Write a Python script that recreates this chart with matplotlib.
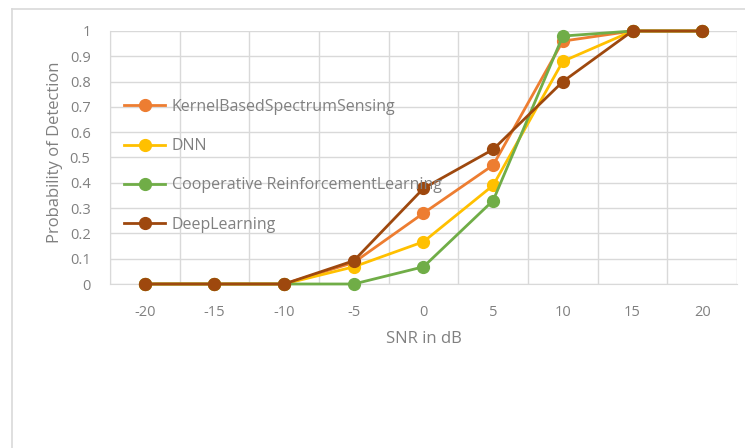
import matplotlib
matplotlib.use("Agg")
import matplotlib.pyplot as plt
from matplotlib.lines import Line2D

# SNR sweep and detection probability for each detector
snr_db = [-20, -15, -10, -5, 0, 5, 10, 15, 20]
kernel_based = [0, 0, 0, 0.085, 0.28, 0.47, 0.96, 1, 1]
dnn = [0, 0, 0, 0.068, 0.167, 0.39, 0.88, 1, 1]
coop_rl = [0, 0, 0, 0, 0.068, 0.33, 0.98, 1, 1]
deep_learning = [0, 0, 0, 0.092, 0.378, 0.532, 0.80, 1, 1]

series_names = ["KernelBasedSpectrumSensing", "DNN",
                "Cooperative ReinforcementLearning", "DeepLearning"]
series_colors = ["#ED7D31", "#FFC000", "#70AD47", "#9E480E"]

TEXT = "#808080"
GRID = "#d9d9d9"

plt.rcParams["font.family"] = ["Open Sans", "DejaVu Sans"]

fig = plt.figure(figsize=(7.45, 4.48), dpi=100)
W, H = 745, 448
ax = fig.add_axes([110 / W, 1 - 284 / H, (737 - 110) / W, (284 - 31) / H])

# outer chart frame (left and top edges only are inside the canvas)
fig.add_artist(Line2D([12 / W, 12 / W], [0, 1 - 9 / H], transform=fig.transFigure,
                      color=GRID, lw=1.2))
fig.add_artist(Line2D([12 / W, 1], [1 - 9 / H, 1 - 9 / H], transform=fig.transFigure,
                      color=GRID, lw=1.2))

x = list(range(len(snr_db)))
for vals, name, col in zip([kernel_based, dnn, coop_rl, deep_learning],
                           series_names, series_colors):
    ax.plot(x, vals, "-o", color=col, lw=2.0, ms=8.5, label=name, zorder=3,
            clip_on=False)

ax.set_xlim(-0.5, len(snr_db) - 0.5)
ax.set_ylim(0, 1)
ax.set_xticks(x)
ax.set_xticklabels([str(v) for v in snr_db])
ax.set_yticks([i / 10 for i in range(11)])
ax.set_yticklabels(["0"] + [f"0.{i}" for i in range(1, 10)] + ["1"])

# category gridlines sit between the SNR points
ax.set_xticks([i + 0.5 for i in range(-1, len(snr_db))], minor=True)
ax.grid(True, which="minor", axis="x", color=GRID, lw=1.0)
ax.grid(True, which="major", axis="y", color=GRID, lw=1.0)
ax.set_axisbelow(True)

for s in ["top", "right"]:
    ax.spines[s].set_visible(False)
ax.spines["left"].set_color(GRID)
ax.spines["bottom"].set_color(GRID)

ax.tick_params(which="both", length=0, colors=TEXT, labelsize=10.5)
ax.tick_params(axis="x", pad=15)
ax.tick_params(axis="y", pad=14)

ax.set_xlabel("SNR in dB", color=TEXT, fontsize=12)
ax.set_ylabel("Probability of Detection", color=TEXT, fontsize=12)
ax.xaxis.set_label_coords(0.5, -0.185)
ax.yaxis.set_label_coords(-0.075, 0.52)

leg = ax.legend(loc="upper left", bbox_to_anchor=(0.022, 0.731), frameon=False,
                fontsize=11.5, labelspacing=1.45, handlelength=2.6,
                handletextpad=0.4, borderpad=0, borderaxespad=0)
for t in leg.get_texts():
    t.set_color(TEXT)

fig.savefig("out.png", dpi=100)
